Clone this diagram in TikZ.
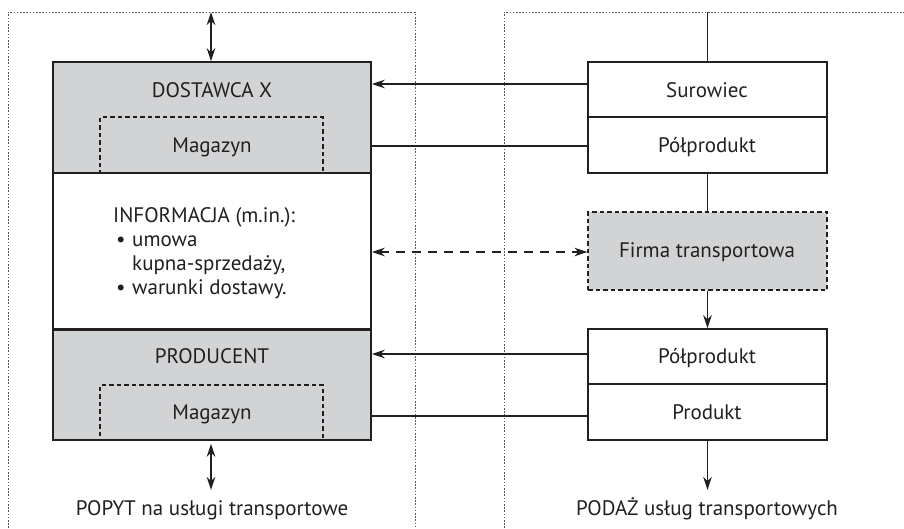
\documentclass[tikz,border=0pt]{standalone}
\usepackage{fontspec}
\setmainfont{PT Sans}
\usetikzlibrary{arrows.meta,calc}
\definecolor{ink}{HTML}{231F20}
\definecolor{panel}{HTML}{D1D3D4}
\definecolor{frame}{HTML}{555555}
\tikzset{
  x=1pt, y=-1pt,
  every node/.style={text=ink, font=\fontsize{21}{24}\selectfont, inner sep=0pt},
  box/.style={draw=ink, line width=1.5pt, rectangle, inner sep=0pt},
  greybox/.style={box, fill=panel},
  dashbox/.style={draw=ink, line width=1.2pt, dash pattern=on 4.5pt off 3pt, rectangle, inner sep=0pt},
  zone/.style={draw=frame, line width=0.8pt, dash pattern=on 1.6pt off 1.6pt},
  link/.style={draw=ink, line width=1.2pt},
  head/.style={Stealth[length=13pt,width=8.5pt,inset=4pt]},
  tip/.style={-{Stealth[length=13pt,width=8.5pt,inset=4pt]}},
  tips/.style={{Stealth[length=13pt,width=8.5pt,inset=4pt]}-{Stealth[length=13pt,width=8.5pt,inset=4pt]}},
}
\begin{document}
\begin{tikzpicture}
\useasboundingbox (0,0) rectangle (904,528);

% dotted zones: demand (left) and supply (right)
\draw[zone] (8,528) -- (8,12) -- (415,12) -- (415,528);
\draw[zone] (504,528) -- (504,12) -- (904,12);

% left column
\node[greybox, minimum width=318pt, minimum height=111pt] (dost) at (212,117.5) {};
\node[box, fill=white, minimum width=318pt, minimum height=156pt] (info) at (212,251) {};
\node[greybox, minimum width=318pt, minimum height=111pt] (prod) at (212,384.5) {};
\node[dashbox, minimum width=223pt, minimum height=56pt] (mag1) at (211.5,145) {};
\node[dashbox, minimum width=223pt, minimum height=55pt] (mag2) at (211.5,412.5) {};
\draw[ink, line width=1.5pt] (info.north west) -- (info.north east);
\draw[ink, line width=1.5pt] (info.south west) -- (info.south east);

\node[anchor=base] (tdost) at (212,97) {DOSTAWCA X};
\node[anchor=base] (tmag1) at (212,152) {Magazyn};
\node[anchor=base] (tprod) at (212,363) {PRODUCENT};
\node[anchor=base] (tmag2) at (212,419) {Magazyn};
% the base of a multi-line node is the baseline of its last line
\node[anchor=base west, align=left] (tinfo) at (113,294)
  {INFORMACJA (m.in.):\\
   \makebox[19pt][l]{\hspace{3pt}•}umowa\\
   \hspace*{19pt}kupna-sprzedaży,\\
   \makebox[19pt][l]{\hspace{3pt}•}warunki dostawy.};

% right column
\node[box, minimum width=239pt, minimum height=55pt] (sur) at (707.5,89.5) {};
\node[box, minimum width=239pt, minimum height=56pt] (polp1) at (707.5,145) {};
\node[dashbox, fill=panel, minimum width=239pt, minimum height=78pt] (firma) at (707.5,251) {};
\node[box, minimum width=239pt, minimum height=55pt] (polp2) at (707.5,356.5) {};
\node[box, minimum width=239pt, minimum height=56pt] (produkt) at (707.5,412) {};

\node[anchor=base] (tsur) at (707,97) {Surowiec};
\node[anchor=base] (tpolp1) at (707,152) {Półprodukt};
\node[anchor=base] (tfirma) at (707,257) {Firma transportowa};
\node[anchor=base] (tpolp2) at (707,363) {Półprodukt};
\node[anchor=base] (tprodukt) at (707,419) {Produkt};

% bottom captions
\node[anchor=base] (popyt) at (212,515) {POPYT na usługi transportowe};
\node[anchor=base] (podaz) at (707,515) {PODAŻ usług transportowych};

% free ends of the vertical connectors
\coordinate (ltop) at (211,12);
\coordinate (lbot) at (211,490);
\coordinate (rtop) at (707.5,12);
\coordinate (rbot) at (707.5,490);

% vertical flows
\draw[link, tips] (ltop) -- (ltop |- dost.north);
\draw[link, tips, shorten <=3pt] (lbot |- prod.south) -- (lbot);
\draw[link] (rtop) -- (sur.north);
\draw[link] (polp1.south) -- (firma.north);
\draw[link, tip] (firma.south) -- (polp2.north);
\draw[link, tip] (produkt.south) -- (rbot);

% horizontal flows from supply to demand
\coordinate (s1) at ([yshift=5.5pt]sur.west);
\coordinate (s2) at ([yshift=-1pt]polp1.west);
\coordinate (s3) at ([yshift=2.5pt]polp2.west);
\coordinate (s4) at ([yshift=-4pt]produkt.west);
\draw[link, tip] (s1) -- (s1 -| dost.east);
\draw[link] (s2) -- (s2 -| dost.east);
\draw[link, tip] (s3) -- (s3 -| prod.east);
\draw[link] (s4) -- (s4 -| prod.east);
\coordinate (s5) at ([yshift=-1pt]firma.west);
\draw[link, tips, dash pattern=on 9pt off 7pt] (s5 -| info.east) -- (s5);
\end{tikzpicture}
\end{document}
